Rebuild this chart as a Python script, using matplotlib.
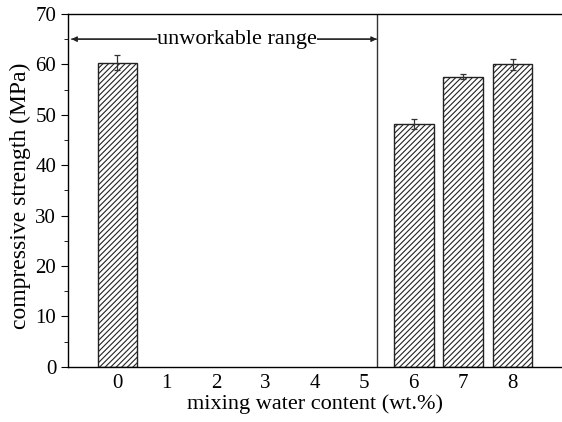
import numpy as np
import matplotlib.pyplot as plt
from matplotlib.ticker import MultipleLocator

plt.rcParams['font.family'] = ['Liberation Serif', 'DejaVu Serif']
plt.rcParams['hatch.linewidth'] = 0.8

# data
water = [0, 6, 7, 8]
strength = [60.3, 48.2, 57.5, 60.0]
err = [1.5, 1.0, 0.5, 1.1]
tick_pos = [0, 1, 2, 3, 4, 5, 6, 7, 8]
tick_labels = ['0', '1', '2', '3', '4', '5', '6', '7', '8']
split_x = 5.25  # border of the unworkable range

fig = plt.figure(figsize=(5.62, 4.22), dpi=100)
ax = fig.add_axes([0.121, 0.131, 0.879, 0.836])

ax.bar(water, strength, width=0.8, color='white', edgecolor='#222222',
       linewidth=1.0, hatch='//////', zorder=2)
ax.errorbar(water, strength, yerr=err, fmt='none', ecolor='#333333',
            elinewidth=0.9, capsize=2.5, capthick=0.9, zorder=3)

ax.axvline(split_x, color='#333333', linewidth=1.0)
ax.annotate('', xy=(-0.93, 65), xytext=(split_x, 65),
            arrowprops=dict(arrowstyle='-|>', color='#222222', lw=0.9,
                            mutation_scale=8, shrinkA=0, shrinkB=0))
ax.annotate('', xy=(split_x, 65), xytext=(-0.93, 65),
            arrowprops=dict(arrowstyle='-|>', color='#222222', lw=0.9,
                            mutation_scale=8, shrinkA=0, shrinkB=0))
ax.text(2.42, 65, 'unworkable range', ha='center', va='center', fontsize=16,
        bbox=dict(facecolor='white', edgecolor='none', pad=0.3), zorder=4)

ax.set_xlim(-1, 9)
ax.set_ylim(0, 70)
ax.set_xticks(tick_pos)
ax.set_xticklabels(tick_labels)
ax.tick_params(axis='x', length=0, labelsize=15, pad=5)
ax.yaxis.set_major_locator(MultipleLocator(10))
ax.yaxis.set_minor_locator(MultipleLocator(5))
ax.tick_params(axis='y', which='major', length=5, labelsize=15)
ax.tick_params(axis='y', which='minor', length=3)
ax.spines['right'].set_visible(False)
for s in ['left', 'top', 'bottom']:
    ax.spines[s].set_linewidth(1.0)

ax.set_xlabel('mixing water content (wt.%)', fontsize=16, labelpad=1)
ax.set_ylabel('compressive strength (MPa)', fontsize=17, labelpad=3)
ax.yaxis.label.set_y(0.485)

plt.savefig('out.png', dpi=100)
